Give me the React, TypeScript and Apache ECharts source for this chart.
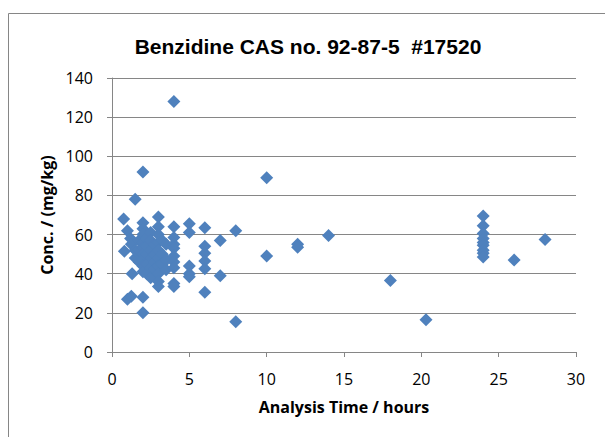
import React, { useEffect, useRef } from "react";
import * as echarts from "echarts";

const titleText = "Benzidine CAS no. 92-87-5  #17520";
const xAxisTitle = "Analysis Time / hours";
const yAxisTitle = "Conc. / (mg/kg)";

// Analysis time (hours) for each sample
const hours: number[] = [
  0.75, 0.8, 1.0, 1.2, 1.0, 1.25, 1.3, 1.5, 1.5, 1.25, 1.5, 1.75, 1.75, 1.75,
  2, 2, 2, 2, 2, 2, 2, 2, 2, 2, 2, 2,
  2.25, 2.25, 2.25, 2.25, 2.25,
  2.5, 2.5, 2.5, 2.5, 2.5, 2.5,
  2.75, 2.75, 2.75, 2.75,
  3, 3, 3, 3, 3, 3, 3, 3, 3, 3,
  3.25, 3.25, 3.25, 3.5, 3.5, 3.5,
  4, 4, 4, 4, 4, 4, 4, 4, 4, 4,
  5, 5, 5, 5, 5,
  6, 6, 6, 6, 6, 6,
  7, 7, 8, 8, 10, 10, 12, 12, 14, 18, 20.3,
  24, 24, 24, 24, 24, 24, 24, 24, 24, 26, 28,
];

// Concentration (mg/kg) for each sample
const conc: number[] = [
  68, 51.5, 62, 58, 27, 28.5, 40, 78, 48, 55, 52, 57, 46, 52,
  92, 66, 63, 60, 56, 53, 50, 47, 44, 41, 28, 20,
  58, 54, 50, 45, 40,
  61, 57, 52, 48, 43, 38,
  55, 50, 46, 42,
  69, 64, 60, 56, 52, 48, 44, 40, 36, 33.5,
  57, 50, 45, 55, 47, 42,
  128, 64, 58.5, 55, 53, 49, 46, 43, 35, 33.5,
  65.5, 61, 44, 40, 38.5,
  63.5, 54, 50.5, 46.5, 42.5, 30.5,
  57, 39, 62, 15.5, 89, 49, 55, 53.5, 59.5, 36.5, 16.5,
  69.5, 64.5, 60.5, 58, 56, 54.5, 52, 50.5, 48.5, 47, 57.5,
];

const xTicks = [0, 5, 10, 15, 20, 25, 30];
const yTicks = [0, 20, 40, 60, 80, 100, 120, 140];

export default function App() {
  const ref = useRef<HTMLDivElement>(null);

  useEffect(() => {
    if (!ref.current) return;
    const chart = echarts.init(ref.current, null, { renderer: "svg" });
    const data = hours.map((h, i) => [h, conc[i]]);
    const gray = "#868686";
    const labelFont = "'Open Sans', 'Noto Sans', sans-serif";
    chart.setOption({
      animation: false,
      backgroundColor: "#ffffff",
      graphic: [
        {
          type: "rect",
          silent: true,
          shape: { x: 8.5, y: 13.5, width: 700, height: 500 },
          style: { fill: "none", stroke: gray, lineWidth: 1 },
        },
        {
          type: "text",
          x: 308,
          y: 46,
          style: {
            text: titleText,
            font: "bold 21px 'Liberation Sans', Arial, sans-serif",
            fill: "#000000",
            textAlign: "center",
            textVerticalAlign: "middle",
          },
        },
      ],
      grid: { left: 112, right: 29, top: 78, bottom: 85 },
      xAxis: {
        type: "value",
        min: xTicks[0],
        max: xTicks[xTicks.length - 1],
        interval: 5,
        name: xAxisTitle,
        nameLocation: "middle",
        nameGap: 47,
        nameTextStyle: { fontFamily: labelFont, fontWeight: "bold", fontSize: 16, color: "#000" },
        axisLine: { show: true, onZero: false, lineStyle: { color: gray, width: 1 } },
        axisTick: { show: true, inside: false, length: 5, lineStyle: { color: gray } },
        axisLabel: { fontFamily: labelFont, fontSize: 16, color: "#000", margin: 19 },
        splitLine: { show: false },
      },
      yAxis: {
        type: "value",
        min: yTicks[0],
        max: yTicks[yTicks.length - 1],
        interval: 20,
        name: yAxisTitle,
        nameLocation: "middle",
        nameGap: 56,
        nameRotate: 90,
        nameTextStyle: { fontFamily: labelFont, fontWeight: "bold", fontSize: 16, color: "#000" },
        axisLine: { show: true, onZero: false, lineStyle: { color: gray, width: 1 } },
        axisTick: { show: true, inside: false, length: 5, lineStyle: { color: gray } },
        axisLabel: { fontFamily: labelFont, fontSize: 16, color: "#000", margin: 19 },
        splitLine: { show: true, lineStyle: { color: gray, width: 1 } },
      },
      series: [
        {
          type: "scatter",
          data,
          symbol: "diamond",
          symbolSize: 13,
          itemStyle: { color: "#4F81BD", opacity: 1 },
          clip: false,
        },
      ],
    });
    return () => chart.dispose();
  }, []);

  return <div ref={ref} style={{ width: 605, height: 437, position: "absolute", left: 0, top: 0 }} />;
}
